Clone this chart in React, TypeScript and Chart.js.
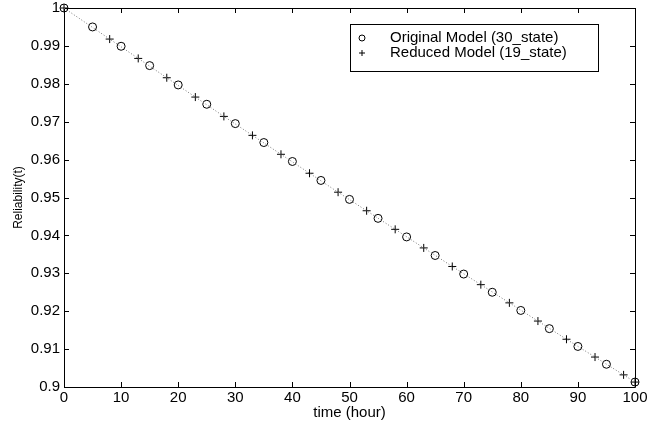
import React, { useEffect, useRef } from "react";
import { Chart, registerables } from "chart.js";

Chart.register(...registerables);

const originalTimes = [0, 5, 10, 15, 20, 25, 30, 35, 40, 45, 50, 55, 60, 65, 70, 75, 80, 85, 90, 95, 100];
const originalValues = [1.0, 0.9950, 0.9899, 0.9848, 0.9797, 0.9746, 0.9695, 0.9645, 0.9595, 0.9545, 0.9495, 0.9445, 0.9396, 0.9347, 0.9298, 0.9250, 0.9202, 0.9154, 0.9107, 0.9060, 0.9013];
const reducedTimes = [0, 8, 13, 18, 23, 28, 33, 38, 43, 48, 53, 58, 63, 68, 73, 78, 83, 88, 93, 98, 100];
const reducedValues = [1.0, 0.9918, 0.9867, 0.9816, 0.9765, 0.9714, 0.9664, 0.9614, 0.9564, 0.9514, 0.9465, 0.9416, 0.9367, 0.9318, 0.9270, 0.9222, 0.9174, 0.9126, 0.9079, 0.9032, 0.9013];
const xTicks = [0, 10, 20, 30, 40, 50, 60, 70, 80, 90, 100];
const yTicks = [0.9, 0.91, 0.92, 0.93, 0.94, 0.95, 0.96, 0.97, 0.98, 0.99, 1];
const seriesLabels = ["Original Model (30_state)", "Reduced Model (19_state)"];
const seriesMarkers = ["circle", "cross"];
const xTitle = "time (hour)";
const yTitle = "Reliability(t)";

const FONT = "'Liberation Sans', Arial, Helvetica, sans-serif";

function drawMarker(ctx: CanvasRenderingContext2D, style: string, x: number, y: number, r: number) {
  ctx.beginPath();
  if (style === "circle") {
    ctx.arc(x, y, r, 0, Math.PI * 2);
  } else {
    ctx.moveTo(x - r, y);
    ctx.lineTo(x + r, y);
    ctx.moveTo(x, y - r);
    ctx.lineTo(x, y + r);
  }
  ctx.stroke();
}

const framePlugin = {
  id: "frame",
  beforeDatasetsDraw(chart: any) {
    const ctx = chart.ctx;
    const { left, right, top, bottom } = chart.chartArea;
    const xs = chart.scales.x;
    const ys = chart.scales.y;
    ctx.save();
    ctx.strokeStyle = "#000";
    ctx.lineWidth = 1;
    ctx.beginPath();
    ctx.rect(Math.round(left) + 0.5, Math.round(top) + 0.5, Math.round(right - left), Math.round(bottom - top));
    ctx.stroke();
    const tl = 5;
    ctx.beginPath();
    xTicks.forEach((v) => {
      const px = Math.round(xs.getPixelForValue(v)) + 0.5;
      ctx.moveTo(px, bottom);
      ctx.lineTo(px, bottom - tl);
      ctx.moveTo(px, top);
      ctx.lineTo(px, top + tl);
    });
    yTicks.forEach((v) => {
      const py = Math.round(ys.getPixelForValue(v)) + 0.5;
      ctx.moveTo(left, py);
      ctx.lineTo(left + tl, py);
      ctx.moveTo(right, py);
      ctx.lineTo(right - tl, py);
    });
    ctx.stroke();
    ctx.restore();
  },
  afterDraw(chart: any) {
    const ctx = chart.ctx;
    ctx.save();
    ctx.strokeStyle = "#000";
    ctx.lineWidth = 1;
    const bx = 350.5, by = 24.5, bw = 248, bh = 47;
    ctx.fillStyle = "#fff";
    ctx.fillRect(bx, by, bw, bh);
    ctx.strokeRect(bx, by, bw, bh);
    ctx.fillStyle = "#000";
    ctx.font = "15px " + FONT;
    ctx.textBaseline = "middle";
    ctx.textAlign = "left";
    const rows = [38, 53];
    seriesLabels.forEach((label, i) => {
      drawMarker(ctx, seriesMarkers[i], 362, rows[i], 3);
      ctx.fillText(label, 390, rows[i]);
    });
    ctx.restore();
  },
};

export default function App() {
  const ref = useRef<HTMLCanvasElement>(null);
  useEffect(() => {
    document.body.style.margin = "0";
    const chart = new Chart(ref.current as HTMLCanvasElement, {
      type: "scatter",
      data: {
        datasets: [
          {
            label: "line",
            data: reducedTimes.map((t, i) => ({ x: t, y: reducedValues[i] })),
            pointRadius: 0,
            borderColor: "#777",
            borderWidth: 1,
            borderDash: [1, 2],
            showLine: true,
            clip: false,
          },
          {
            label: seriesLabels[0],
            data: originalTimes.map((t, i) => ({ x: t, y: originalValues[i] })),
            pointStyle: seriesMarkers[0],
            pointRadius: 4,
            borderColor: "#000",
            backgroundColor: "rgba(0,0,0,0)",
            borderWidth: 1,
            showLine: false,
            clip: false,
          },
          {
            label: seriesLabels[1],
            data: reducedTimes.map((t, i) => ({ x: t, y: reducedValues[i] })),
            pointStyle: seriesMarkers[1],
            pointRadius: 4,
            borderColor: "#000",
            backgroundColor: "#000",
            borderWidth: 1,
            showLine: false,
            clip: false,
          },
        ],
      },
      options: {
        responsive: false,
        animation: false,
        layout: { padding: { top: 8, right: 27, left: 0, bottom: 0 } },
        plugins: { legend: { display: false }, tooltip: { enabled: false } },
        scales: {
          x: {
            type: "linear",
            min: 0,
            max: 100,
            afterBuildTicks: (s: any) => {
              s.ticks = xTicks.map((v) => ({ value: v }));
            },
            afterFit: (s: any) => {
              s.height = 38;
              s.paddingLeft = 0;
              s.paddingRight = 0;
            },
            grid: { display: false, drawTicks: false },
            border: { display: false },
            ticks: {
              color: "#000",
              font: { size: 15, family: FONT },
              padding: 2,
              maxRotation: 0,
              autoSkip: false,
              callback: (v: any) => String(v),
            },
            title: { display: true, text: xTitle, color: "#000", font: { size: 15, family: FONT }, padding: { top: 0, bottom: 3 } },
          },
          y: {
            type: "linear",
            min: 0.9,
            max: 1,
            afterBuildTicks: (s: any) => {
              s.ticks = yTicks.map((v) => ({ value: v }));
            },
            afterFit: (s: any) => {
              s.width = 64;
              s.paddingTop = 0;
              s.paddingBottom = 0;
            },
            grid: { display: false, drawTicks: false },
            border: { display: false },
            ticks: {
              color: "#000",
              font: { size: 15, family: FONT },
              padding: 4,
              autoSkip: false,
              callback: (v: any) => String(Number(Number(v).toFixed(2))),
            },
            title: { display: true, text: yTitle, color: "#000", font: { size: 12, family: FONT }, padding: { top: 11, bottom: 0 } },
          },
        },
      },
      plugins: [framePlugin],
    } as any);
    return () => chart.destroy();
  }, []);
  return (
    <div style={{ position: "absolute", left: 0, top: 0, width: 662, height: 425, background: "#fff" }}>
      <canvas ref={ref} width={662} height={425} />
    </div>
  );
}
